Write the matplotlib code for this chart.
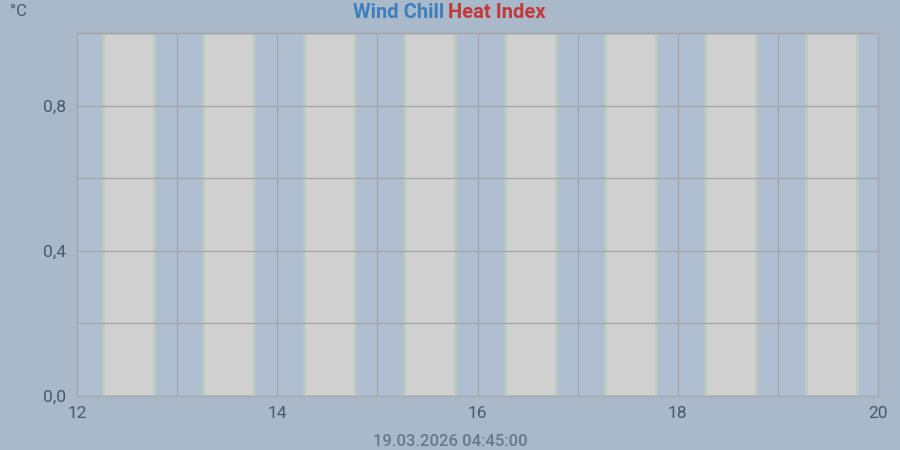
import numpy as np
import matplotlib as mlt
import matplotlib.pyplot as plt

plt.rcParams['font.family'] = ['Roboto', 'DejaVu Sans']

# gray bands (hours)
band_start = [12.26, 13.26, 14.27, 15.27, 16.27, 17.27, 18.27, 19.28]
band_end = [12.77, 13.77, 14.78, 15.78, 16.78, 17.78, 18.78, 19.79]
x_ticks = [12, 14, 16, 18, 20]
y_ticks = [0.0, 0.4, 0.8]
y_labels = ['0,0', '0,4', '0,8']
timestamp = '19.03.2026 04:45:00'

bg = '#a9b9c9'
fig = plt.figure(figsize=(9, 4.5), dpi=100, facecolor=bg)
ax = fig.add_axes([77/900, 54/450, 801/900, 363/450])
ax.set_facecolor('#afbfd1')

for s, e in zip(band_start, band_end):
    ax.axvspan(s, e, facecolor='#d0d0d0', edgecolor='#b8cbbd', linewidth=2, zorder=1)

ax.set_xlim(12, 20)
ax.set_ylim(0, 1.0)
ax.set_xticks(x_ticks)
ax.xaxis.set_minor_locator(mlt.ticker.MultipleLocator(1))
ax.set_yticks(y_ticks)
ax.set_yticklabels(y_labels)
ax.yaxis.set_minor_locator(mlt.ticker.MultipleLocator(0.2))
ax.grid(which='both', color='#a3a3a8', linewidth=0.9, zorder=2)
ax.set_axisbelow(False)
ax.tick_params(which='both', length=0, labelsize=12.5, colors='#4a5868')
ax.tick_params(axis='x', pad=7)
ax.tick_params(axis='y', pad=8)
for sp in ax.spines.values():
    sp.set_color('#a8a8ae')
    sp.set_linewidth(1)

fig.text(10/900, 1 - 11/450, '°C', fontsize=12, color='#4a5868', va='center', ha='left')
fig.text(444/900, 1 - 12/450, 'Wind Chill', fontsize=14.5, fontweight='bold',
         color='#3d7fbd', ha='right', va='center')
fig.text(448/900, 1 - 12/450, 'Heat Index', fontsize=14.5, fontweight='bold',
         color='#c0393b', ha='left', va='center')
fig.text(0.5, 1 - 441/450, timestamp, fontsize=12, fontweight='medium', color='#6a7888',
         ha='center', va='center')

fig.savefig('out.png', dpi=100, facecolor=bg)
